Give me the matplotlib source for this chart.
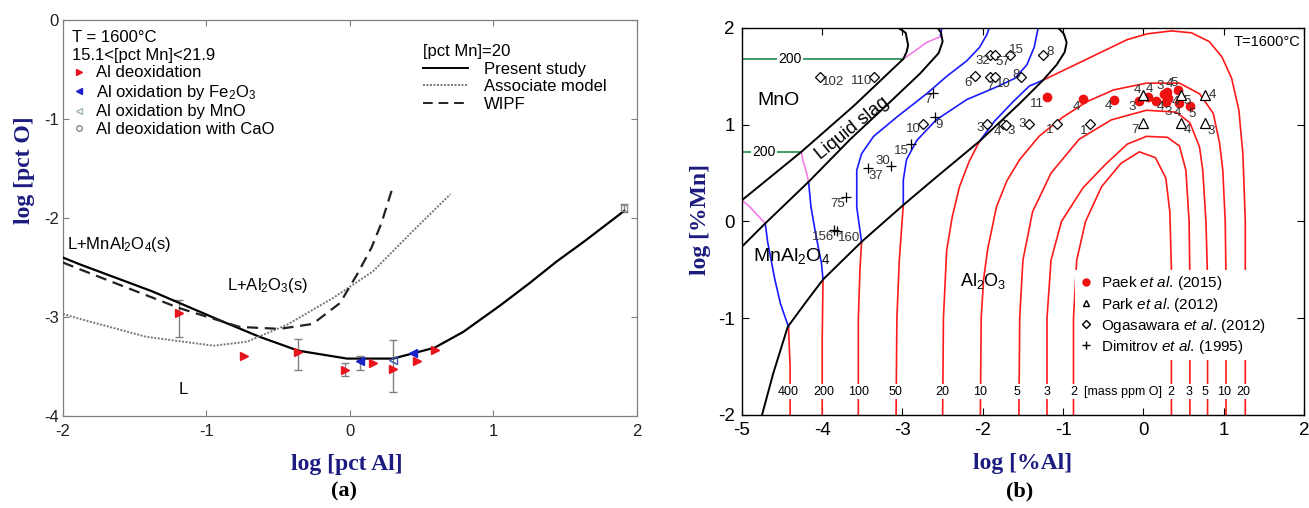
import matplotlib
matplotlib.use("Agg")
import matplotlib.pyplot as plt
from matplotlib.lines import Line2D

plt.rcParams['font.family'] = ['Liberation Sans', 'DejaVu Sans']
plt.rcParams['mathtext.fontset'] = 'custom'
plt.rcParams['mathtext.rm'] = 'Liberation Sans'
plt.rcParams['mathtext.it'] = 'Liberation Sans:italic'
plt.rcParams['axes.unicode_minus'] = False

NAVY = '#1c1c80'
RED = '#ff1a1a'
BLUE = '#1a1aff'
PINK = '#f27ee8'
GREEN = '#1f8a4c'

# ---------------- panel (a): log[pct O] vs log[pct Al] ----------------
present_x = [-2.0, -1.88, -1.38, -0.88, -0.63, -0.36, -0.02, 0.30, 0.59, 0.79, 1.05, 1.25, 1.44, 1.63, 1.91]
present_y = [-2.40, -2.47, -2.74, -3.05, -3.20, -3.34, -3.42, -3.42, -3.31, -3.15, -2.88, -2.66, -2.44, -2.24, -1.93]
assoc_x = [-2.0, -1.88, -1.42, -0.95, -0.72, -0.44, -0.12, 0.16, 0.44, 0.70]
assoc_y = [-2.97, -3.02, -3.20, -3.29, -3.25, -3.08, -2.81, -2.54, -2.13, -1.76]
wipf_x = [-2.0, -1.88, -1.19, -0.77, -0.49, -0.26, -0.07, 0.05, 0.15, 0.22, 0.30]
wipf_y = [-2.45, -2.52, -2.91, -3.10, -3.12, -3.07, -2.86, -2.57, -2.30, -2.05, -1.68]

deox_x = [-1.19, -0.74, -0.36, -0.035, 0.16, 0.30, 0.47, 0.59]
deox_y = [-2.96, -3.39, -3.35, -3.54, -3.46, -3.52, -3.44, -3.33]
fe2o3_x = [0.07, 0.44]
fe2o3_y = [-3.44, -3.36]
mno_ox_x = [0.30]
mno_ox_y = [-3.43]
cao_x = [1.91]
cao_y = [-1.90]

err_x = [-1.19, -0.36, -0.035, 0.07, 0.30, 1.91]
err_lo = [-3.20, -3.54, -3.60, -3.54, -3.76, -1.94]
err_hi = [-2.83, -3.22, -3.46, -3.39, -3.23, -1.86]

# ---------------- panel (b): log[%Mn] vs log[%Al] ----------------
bound_al2o3_x = [-4.75, -4.61, -4.43, -4.20, -3.99, -3.51, -2.99, -2.62, -2.04, -1.54, -1.25, -1.08, -0.98, -0.955, -0.99, -1.06]
bound_al2o3_y = [-2.0, -1.57, -1.09, -0.83, -0.60, -0.21, 0.17, 0.43, 0.83, 1.22, 1.46, 1.62, 1.75, 1.85, 1.94, 2.0]
bound_mno_x = [-5.0, -4.26, -3.6, -2.99, -2.95, -2.93, -2.96, -3.05]
bound_mno_y = [0.22, 0.72, 1.2, 1.68, 1.75, 1.82, 1.95, 2.0]
bound_slag_x = [-5.0, -4.71, -4.17, -3.65, -3.20, -2.78, -2.55, -2.50, -2.52, -2.56]
bound_slag_y = [-0.26, -0.02, 0.41, 0.85, 1.20, 1.53, 1.74, 1.86, 1.95, 2.0]

red_curves = {
    '400': ([-4.40, -4.40, -4.42], [-2.0, -1.5, -1.09]),
    '200': ([-4.0, -4.0, -3.99], [-2.0, -1.2, -0.6]),
    '100': ([-3.55, -3.55, -3.53, -3.51], [-2.0, -1.0, -0.5, -0.21]),
    '50': ([-3.08, -3.07, -3.04, -2.99], [-2.0, -1.0, -0.4, 0.17]),
    '20a': ([-2.50, -2.49, -2.45, -2.38, -2.29, -2.17, -2.04], [-2.0, -1.0, -0.3, 0.05, 0.36, 0.62, 0.83]),
    '20b': ([-1.25, -1.0, -0.75, -0.45, -0.2, 0.05, 0.35, 0.6, 0.82, 0.98, 1.10, 1.19, 1.24, 1.27, 1.27],
            [1.46, 1.56, 1.66, 1.78, 1.88, 1.94, 1.97, 1.95, 1.86, 1.70, 1.48, 1.15, 0.7, 0.0, -2.0]),
    '10': ([-2.03, -2.02, -1.99, -1.94, -1.83, -1.70, -1.54, -1.30, -1.0, -0.70, -0.37, 0.04, 0.45, 0.70, 0.87, 0.95, 0.99, 1.02, 1.03, 1.03],
           [-2.0, -1.0, -0.6, -0.29, 0.15, 0.42, 0.64, 0.88, 1.08, 1.24, 1.36, 1.43, 1.43, 1.32, 1.12, 0.81, 0.53, 0.0, -0.6, -2.0]),
    '5': ([-1.55, -1.54, -1.50, -1.38, -1.15, -0.80, -0.40, 0.04, 0.41, 0.58, 0.70, 0.74, 0.78, 0.80, 0.80],
          [-2.0, -1.0, -0.4, 0.1, 0.5, 0.85, 1.05, 1.15, 1.13, 1.02, 0.77, 0.53, 0.0, -0.6, -2.0]),
    '3': ([-1.2, -1.2, -1.15, -1.02, -0.75, -0.46, -0.2, 0.04, 0.3, 0.45, 0.53, 0.57, 0.58, 0.58],
          [-2.0, -1.0, -0.4, 0.0, 0.35, 0.6, 0.8, 0.88, 0.87, 0.78, 0.53, 0.0, -0.6, -2.0]),
    '2': ([-0.87, -0.87, -0.83, -0.72, -0.52, -0.28, -0.05, 0.15, 0.28, 0.33, 0.35, 0.35],
          [-2.0, -1.0, -0.4, 0.0, 0.36, 0.60, 0.72, 0.66, 0.45, 0.1, -0.5, -2.0]),
}
blue_curves = {
    '400': ([-4.42, -4.52, -4.59, -4.68, -4.71], [-1.09, -0.85, -0.6, -0.21, -0.02]),
    '200': ([-3.99, -4.01, -4.09, -4.14, -4.17], [-0.6, -0.43, -0.09, 0.15, 0.41]),
    '200top': ([-2.53, -2.51], [1.91, 2.0]),
    '100': ([-3.51, -3.57, -3.57, -3.51, -3.36, -3.07, -2.70, -2.45, -2.20, -2.04, -1.95, -1.92],
            [-0.21, 0.15, 0.53, 0.70, 0.88, 1.08, 1.32, 1.50, 1.66, 1.80, 1.93, 2.0]),
    '50': ([-2.99, -2.99, -2.95, -2.82, -2.58, -2.20, -1.83, -1.60, -1.45, -1.36, -1.31],
           [0.17, 0.43, 0.64, 0.84, 1.05, 1.26, 1.39, 1.48, 1.62, 1.8, 2.0]),
    '20': ([-2.04, -1.85, -1.62, -1.42, -1.25], [0.83, 1.04, 1.24, 1.40, 1.46]),
}
pink_curves = {
    '400': ([-4.71, -4.80, -4.90, -5.0], [-0.02, 0.06, 0.15, 0.22]),
    '200': ([-4.17, -4.20, -4.24, -4.26], [0.41, 0.52, 0.63, 0.72]),
    '200top': ([-2.99, -2.85, -2.70, -2.53], [1.68, 1.76, 1.85, 1.91]),
}
green_curves = {
    '200low': ([-5.0, -4.26], [0.72, 0.72]),
    '200high': ([-5.0, -2.99], [1.68, 1.68]),
}

ppm_label_x = [-4.42, -3.98, -3.55, -3.09, -2.51, -2.04, -1.58, -1.20, -0.87, 0.34, 0.57, 0.77, 1.0, 1.25]
ppm_label_txt = ['400', '200', '100', '50', '20', '10', '5', '3', '2', '2', '3', '5', '10', '20']

paek_x = [-1.2, -0.75, -0.37, -0.06, 0.06, 0.16, 0.26, 0.30, 0.31, 0.28, 0.43, 0.45, 0.58]
paek_y = [1.29, 1.27, 1.26, 1.25, 1.29, 1.25, 1.32, 1.34, 1.28, 1.23, 1.36, 1.22, 1.19]
paek_lab = ['11', '4', '4', '3', '4', '4', '3', '4', '4', '3', '5', '4', '5']
park_x = [-0.01, 0.47, 0.77, -0.01, 0.47, 0.77]
park_y = [1.31, 1.31, 1.31, 1.02, 1.02, 1.02]
park_lab = ['4', '5', '4', '7', '4', '3']
oga_x = [-4.03, -3.35, -2.75, -2.10, -1.91, -1.85, -1.52, -1.91, -1.85, -1.66, -1.25, -1.95, -1.75, -1.71, -1.42, -1.08, -0.67]
oga_y = [1.49, 1.49, 1.01, 1.50, 1.49, 1.49, 1.49, 1.72, 1.72, 1.72, 1.72, 1.01, 1.01, 1.00, 1.01, 1.01, 1.01]
oga_lab = ['102', '110', '10', '6', '7', '10', '8', '32', '57', '15', '8', '3', '4', '3', '3', '1', '1']
dim_x = [-2.62, -2.60, -2.90, -3.14, -3.43, -3.70, -3.85, -3.81]
dim_y = [1.33, 1.08, 0.80, 0.57, 0.55, 0.25, -0.09, -0.10]
dim_lab = ['7', '9', '15', '30', '37', '75', '156', '160']

# label offsets (points) for the numbers next to each marker
paek_off = [(-7.5, -5), (-5, -6), (-4, -4.5), (-4.5, -4.5), (1, 5.5), (3, -4.5), (-3, 5.5), (1.5, 6), (5, -3),
            (2, -6.5), (-2.4, 5), (-1.2, -7), (1.5, -5.5)]
park_off = [(-3.5, 3.5), (4.5, -4.5), (5, 0), (-5.5, -5.5), (4.5, -5.5), (4.5, -6)]
oga_off = [(9.5, -3.5), (-9, -3), (-6.5, -4), (-5, -4.5), (0, -6.8), (6.5, -4.5), (-4, 1.5), (-5.5, -4.5), (5.5, -5),
           (4.5, 4), (5, 2), (-5, -3), (-4, -6), (3.5, -4.5), (-5.5, 0), (-5, -4.5), (-4.5, -5.5)]
dim_off = [(-3.5, -5.5), (3, -5.5), (-6.5, -5), (-6, 4), (5.5, -5.5), (-6, -5), (-8, -5), (8, -5)]


def main():
    fig = plt.figure(figsize=(13.09, 5.08), dpi=100)

    # ================= (a) =================
    ax = fig.add_axes([0.0481, 0.181, 0.4385, 0.780])
    ax.plot(present_x, present_y, color='black', lw=1.6, zorder=3)
    ax.plot(assoc_x, assoc_y, color='#777777', lw=1.4, ls=(0, (1, 0.8)), zorder=3)
    ax.plot(wipf_x, wipf_y, color='#222222', lw=1.6, ls=(0, (5, 3)), zorder=3)

    mid = [(lo + hi) / 2 for lo, hi in zip(err_lo, err_hi)]
    half = [(hi - lo) / 2 for lo, hi in zip(err_lo, err_hi)]
    ax.errorbar(err_x, mid, yerr=half, fmt='none', ecolor='#808080', elinewidth=1.0, capsize=3, zorder=2)

    ax.plot(deox_x, deox_y, ls='none', marker='>', ms=6, color='#e8141e', zorder=4)
    ax.plot(fe2o3_x, fe2o3_y, ls='none', marker='<', ms=6, color='#1a22c8', zorder=4)
    ax.plot(mno_ox_x, mno_ox_y, ls='none', marker='<', ms=6, mfc='none', mec='#3a56b0', mew=1.0, zorder=4)
    ax.plot(cao_x, cao_y, ls='none', marker='s', ms=5, mfc='none', mec='#909090', mew=1.0, zorder=4)

    ax.text(-1.97, -2.27, 'L+MnAl$_2$O$_4$(s)', fontsize=12, va='center', ha='left')
    ax.text(-0.86, -2.68, 'L+Al$_2$O$_3$(s)', fontsize=12, va='center', ha='left')
    ax.text(-1.16, -3.73, 'L', fontsize=12, va='center', ha='center')

    h1 = [Line2D([], [], ls='none', marker='>', ms=4.5, color='#e8141e'),
          Line2D([], [], ls='none', marker='<', ms=4.5, color='#1a22c8'),
          Line2D([], [], ls='none', marker='<', ms=4.5, mfc='none', mec='#a0b8b0'),
          Line2D([], [], ls='none', marker='o', ms=4, mfc='none', mec='#888888')]
    leg1 = ax.legend(h1, ['Al deoxidation', 'Al oxidation by Fe$_2$O$_3$', 'Al oxidation by MnO',
                          'Al deoxidation with CaO'],
                     title='T = 1600°C\n15.1<[pct Mn]<21.9', title_fontsize=12, fontsize=12,
                     loc='upper left', bbox_to_anchor=(0.005, 0.99), frameon=False,
                     handlelength=0.8, handletextpad=0.6, labelspacing=0.15, borderaxespad=0,
                     alignment='left')
    ax.add_artist(leg1)
    h2 = [Line2D([], [], color='black', lw=1.4),
          Line2D([], [], color='#777777', lw=1.4, ls=(0, (1, 0.8))),
          Line2D([], [], color='#222222', lw=1.4, ls=(0, (5, 3)))]
    ax.legend(h2, ['Present study', 'Associate model', 'WIPF'], title='[pct Mn]=20',
              title_fontsize=12, fontsize=12, loc='upper left', bbox_to_anchor=(0.615, 0.955),
              frameon=False, handlelength=2.7, handletextpad=1.0, labelspacing=0.15,
              borderaxespad=0, alignment='left')

    ax.set_xlim(-2, 2)
    ax.set_ylim(-4, 0)
    ax.set_xticks([-2, -1, 0, 1, 2])
    ax.set_yticks([-4, -3, -2, -1, 0])
    ax.tick_params(direction='in', length=4, top=True, right=True, color='#808080',
                   labelsize=12, labelcolor='#222222')
    ax.tick_params(axis='x', pad=6)
    ax.tick_params(axis='y', pad=3)
    for sp in ax.spines.values():
        sp.set_color('#808080')
        sp.set_linewidth(0.9)

    fig.text(0.265, 0.086, 'log [pct Al]', family='Liberation Serif', weight='bold', fontsize=17,
             color=NAVY, ha='center', va='center')
    fig.text(0.019, 0.665, 'log [pct O]', family='Liberation Serif', weight='bold', fontsize=17,
             color=NAVY, ha='center', va='center', rotation=90)
    fig.text(0.263, 0.033, '(a)', family='Liberation Serif', weight='bold', fontsize=16,
             ha='center', va='center')

    # ================= (b) =================
    bx = fig.add_axes([0.5668, 0.1831, 0.4293, 0.7618])
    for xs, ys in red_curves.values():
        bx.plot(xs, ys, color=RED, lw=1.2, zorder=2)
    for xs, ys in blue_curves.values():
        bx.plot(xs, ys, color=BLUE, lw=1.2, zorder=2)
    for xs, ys in pink_curves.values():
        bx.plot(xs, ys, color=PINK, lw=1.2, zorder=2)
    for xs, ys in green_curves.values():
        bx.plot(xs, ys, color=GREEN, lw=1.2, zorder=2)
    bx.plot(bound_al2o3_x, bound_al2o3_y, color='black', lw=1.4, zorder=3)
    bx.plot(bound_mno_x, bound_mno_y, color='black', lw=1.4, zorder=3)
    bx.plot(bound_slag_x, bound_slag_y, color='black', lw=1.4, zorder=3)

    wb = dict(facecolor='white', edgecolor='none', pad=1.0)
    bx.text(-4.72, 0.72, '200', fontsize=10, ha='center', va='center', bbox=wb, zorder=4)
    bx.text(-4.40, 1.68, '200', fontsize=10, ha='center', va='center', bbox=wb, zorder=4)
    for xv, t in zip(ppm_label_x, ppm_label_txt):
        bx.text(xv, -1.76, t, fontsize=9, ha='center', va='center', bbox=wb, zorder=4)
    bx.text(-0.25, -1.76, '[mass ppm O]', fontsize=9, ha='center', va='center', bbox=wb, zorder=4)

    bx.text(-4.55, 1.25, 'MnO', fontsize=14, ha='center', va='center')
    bx.text(-3.62, 0.96, 'Liquid slag', fontsize=13.5, ha='center', va='center', rotation=39)
    bx.text(-4.38, -0.36, 'MnAl$_2$O$_4$', fontsize=14, ha='center', va='center')
    bx.text(-2.0, -0.62, 'Al$_2$O$_3$', fontsize=13, ha='center', va='center')
    bx.text(1.96, 1.93, 'T=1600°C', fontsize=10.5, ha='right', va='top')

    bx.plot(paek_x, paek_y, ls='none', marker='o', ms=6, color='#ee1111', zorder=5)
    bx.plot(park_x, park_y, ls='none', marker='^', ms=6.5, mfc='white', mec='black', mew=0.9, zorder=5)
    bx.plot(oga_x, oga_y, ls='none', marker='D', ms=5, mfc='white', mec='black', mew=0.9, zorder=5)
    bx.plot(dim_x, dim_y, ls='none', marker='+', ms=7.5, color='black', mew=0.9, zorder=5)
    for xs, ys, labs, offs in [(paek_x, paek_y, paek_lab, paek_off), (park_x, park_y, park_lab, park_off),
                               (oga_x, oga_y, oga_lab, oga_off), (dim_x, dim_y, dim_lab, dim_off)]:
        for xv, yv, t, (dx, dy) in zip(xs, ys, labs, offs):
            bx.annotate(t, (xv, yv), xytext=(dx, dy), textcoords='offset points', fontsize=9.5,
                        color='#333333', ha='center', va='center', zorder=6)

    h3 = [Line2D([], [], ls='none', marker='o', ms=5, color='#ee1111'),
          Line2D([], [], ls='none', marker='^', ms=5, mfc='white', mec='black'),
          Line2D([], [], ls='none', marker='D', ms=4, mfc='white', mec='black'),
          Line2D([], [], ls='none', marker='+', ms=6, color='black')]
    leg3 = bx.legend(h3, ['Paek $\\it{et\\ al}$. (2015)', 'Park $\\it{et\\ al}$. (2012)',
                          'Ogasawara $\\it{et\\ al}$. (2012)', 'Dimitrov $\\it{et\\ al}$. (1995)'],
                     fontsize=11, loc='upper left', bbox_to_anchor=(0.593, 0.375), frameon=True,
                     handlelength=0.8, handletextpad=0.6, labelspacing=0.2, borderaxespad=0,
                     borderpad=0.3, fancybox=False)
    leg3.get_frame().set_facecolor('white')
    leg3.get_frame().set_edgecolor('none')
    leg3.get_frame().set_alpha(1)
    leg3.set_zorder(7)

    bx.set_xlim(-5, 2)
    bx.set_ylim(-2, 2)
    bx.set_xticks(range(-5, 3))
    bx.set_yticks([-2, -1, 0, 1, 2])
    bx.tick_params(direction='in', length=5, top=True, right=True, labelsize=13.5, pad=5)
    for sp in bx.spines.values():
        sp.set_linewidth(1.0)

    fig.text(0.781, 0.088, 'log [%Al]', family='Liberation Serif', weight='bold', fontsize=17,
             color=NAVY, ha='center', va='center')
    fig.text(0.535, 0.567, 'log [%Mn]', family='Liberation Serif', weight='bold', fontsize=17,
             color=NAVY, ha='center', va='center', rotation=90)
    fig.text(0.779, 0.033, '(b)', family='Liberation Serif', weight='bold', fontsize=16,
             ha='center', va='center')

    fig.savefig('out.png', dpi=100)


if __name__ == "__main__":
    main()
